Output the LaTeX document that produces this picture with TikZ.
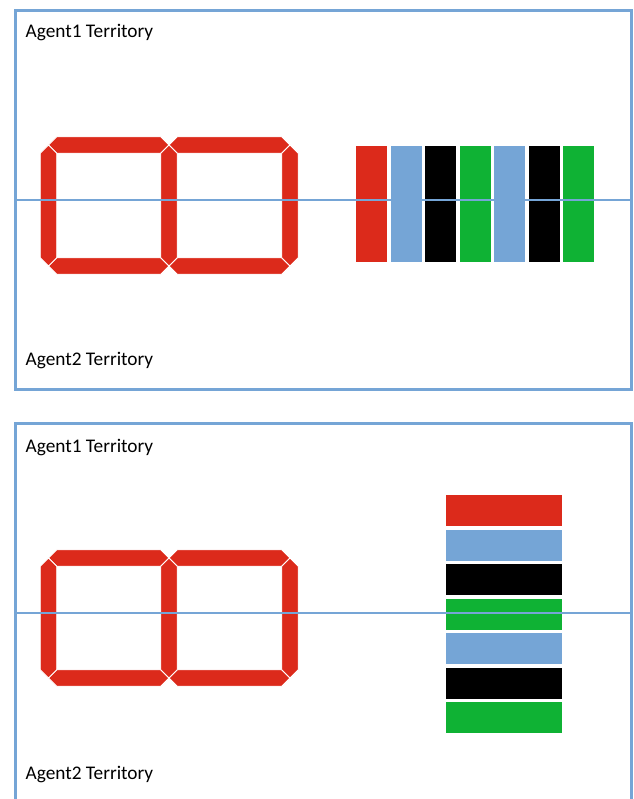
\documentclass[tikz,border=0pt]{standalone}
\usepackage{fontspec}
\setmainfont{Carlito}
\definecolor{segred}{RGB}{220,42,27}
\definecolor{lblue}{RGB}{117,165,214}
\definecolor{lgreen}{RGB}{15,178,52}
\newcommand\hsegment[3]{\filldraw[segpart] (#1,#3) -- (#1+8.2,#3-8.2) -- (#2-8.2,#3-8.2) -- (#2,#3) -- (#2-8.2,#3+8.2) -- (#1+8.2,#3+8.2) -- cycle;}
\newcommand\vsegment[3]{\filldraw[segpart] (#1,#2) -- (#1+8.2,#2+8.2) -- (#1+8.2,#3-8.2) -- (#1,#3) -- (#1-8.2,#3-8.2) -- (#1-8.2,#2+8.2) -- cycle;}
\newcommand\twodigits[2]{%
  \hsegment{48.5}{169}{#1}\hsegment{169}{290}{#1}%
  \hsegment{48.5}{169}{#2}\hsegment{169}{290}{#2}%
  \vsegment{48.5}{#1}{#2}\vsegment{169}{#1}{#2}\vsegment{290}{#1}{#2}}
\begin{document}
\begin{tikzpicture}[x=1pt,y=-1pt,
  segpart/.style={fill=segred,draw=white,line width=0.8pt},
  frame/.style={draw=lblue,line width=3pt},
  midline/.style={draw=lblue,line width=1.3pt},
  lbl/.style={anchor=base west,inner sep=0pt,font=\fontsize{19.3}{22}\selectfont}]
\useasboundingbox (0,0) rectangle (633,799);
\clip (0,0) rectangle (633,799);
% top panel
\draw[frame] (15,11) rectangle (631,389);
\node[lbl] (a1top) at (25.5,38) {Agent1 Territory};
\node[lbl] (a2top) at (25.5,365) {Agent2 Territory};
\twodigits{145}{266}
\foreach \c [count=\i from 0] in {segred,lblue,black,lgreen,lblue,black,lgreen}{
  \fill[\c] (356+34.5*\i,146) rectangle ++(31,116);
}
\draw[midline] (15,200) -- (631,200);
% bottom panel
\draw[frame] (15,423) rectangle (631,840);
\node[lbl] (a1bot) at (25.5,452) {Agent1 Territory};
\node[lbl] (a2bot) at (25.5,779) {Agent2 Territory};
\twodigits{558}{678}
\foreach \c [count=\i from 0] in {segred,lblue,black,lgreen,lblue,black,lgreen}{
  \fill[\c] (446,495+34.5*\i) rectangle ++(116,31);
}
\draw[midline] (15,613) -- (631,613);
\end{tikzpicture}
\end{document}
